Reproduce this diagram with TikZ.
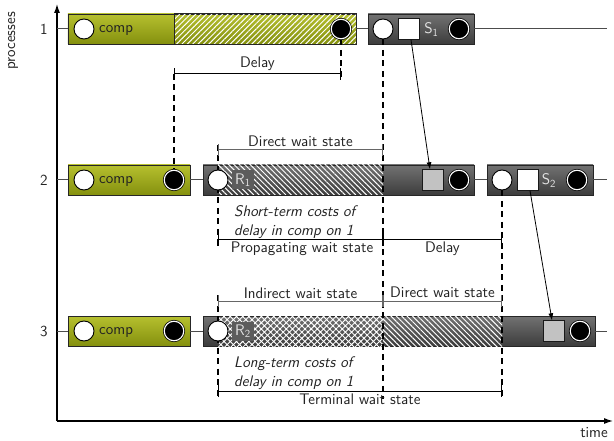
\documentclass[tikz,border=0pt]{standalone}
\usetikzlibrary{patterns.meta,arrows.meta}
\pgfdeclarelayer{back}
\pgfdeclarelayer{mid}
\pgfsetlayers{back,mid,main}
\definecolor{compTop}{HTML}{B6C02F}
\definecolor{compBot}{HTML}{84900E}
\definecolor{waitTop}{HTML}{727272}
\definecolor{waitBot}{HTML}{3C3C3C}
\definecolor{waitMid}{HTML}{5C5C5C}
\definecolor{msgGray}{HTML}{C2C2C2}
\definecolor{labelFg}{HTML}{E4E4E4}
\definecolor{inkGray}{HTML}{222222}

\begin{document}
\begin{tikzpicture}[x=1bp, y=-1bp,
  font=\sffamily\fontsize{15.4}{19}\selectfont, text=inkGray,
  compbox/.style={rectangle, draw=black!85, line width=0.8bp,
    top color=compTop, bottom color=compBot, minimum height=30bp, inner sep=0pt},
  waitbox/.style={rectangle, draw=black!85, line width=0.8bp,
    top color=waitTop, bottom color=waitBot, minimum height=30bp, inner sep=0pt},
  enter/.style={circle, draw=black, fill=white, line width=0.9bp,
    minimum size=20bp, inner sep=0pt},
  leave/.style={circle, fill=black, draw=white, line width=1.1bp,
    minimum size=19.5bp, inner sep=0pt, preaction={draw=black, line width=2.6bp}},
  sendsq/.style={rectangle, draw=black!90, fill=white, line width=0.9bp,
    minimum size=20.5bp, inner sep=0pt},
  recvsq/.style={rectangle, draw=black!90, fill=msgGray, line width=0.9bp,
    minimum size=20.5bp, inner sep=0pt},
  boxlabel/.style={text=labelFg, inner sep=0pt},
  regionlabel/.style={fill=waitMid, text=labelFg, inner xsep=3bp, inner ysep=2.5bp,
    minimum height=19bp},
  proc/.style={draw=black!70, line width=1bp},
  axis/.style={draw=black, line width=1.2bp, -{Latex[length=9bp,width=6bp]}},
  delayline/.style={draw=black, line width=1.2bp, dash pattern=on 6bp off 4.5bp},
  delaythick/.style={draw=black, line width=1.7bp, dash pattern=on 6bp off 4.5bp},
  mbar/.style={draw=black, line width=1bp, {Bar[width=12bp]}-{Bar[width=12bp]}},
  mbargray/.style={mbar, draw=black!60},
  msg/.style={draw=black, line width=0.8bp, -{Latex[length=7bp,width=5bp]}},
  txt/.style={inner sep=0pt, anchor=base},
  txtit/.style={inner sep=0pt, anchor=base west, font=\sffamily\itshape\fontsize{15.4}{19}\selectfont},
  linesNE/.style={pattern={Lines[angle=45,distance=3.8bp,line width=1bp]}, pattern color=white},
  linesNW/.style={pattern={Lines[angle=-45,distance=3.8bp,line width=1bp]}, pattern color=white},
  mesh/.style={pattern={Hatch[angle=45,distance=4.4bp,line width=0.9bp]}, pattern color=white}
]
\useasboundingbox (0,0) rectangle (614,441);

% axes
\coordinate (O) at (57,421);
\coordinate (ytop) at (57,4);
\coordinate (xend) at (613,421);
\draw[axis] (O) -- (ytop);
\draw[axis] (O) -- (xend);
\node[rotate=90] (ylab) at (13,41) {processes};
\node[inner sep=0pt] (xlab) at (594,432.5) {time};
\node (n1) at (44,29) {1};
\node (n2) at (44,180) {2};
\node (n3) at (44,331) {3};
\coordinate (a1) at (57,29);
\coordinate (a2) at (57,180);
\coordinate (a3) at (57,331);
\coordinate (end1) at (607,29);
\coordinate (end2) at (607,180);
\coordinate (end3) at (607,331);

% ---------- boxes (back layer)
\begin{pgfonlayer}{back}
  % process 1
  \node[compbox, minimum width=288bp] (g1) at (212,29) {};
  \draw[linesNE, draw=black!85, line width=0.7bp] (g1.north -| 174,0) rectangle (g1.south east);
  \node[waitbox, minimum width=106bp] (b1) at (421,29) {};
  % process 2
  \node[compbox, minimum width=122bp] (g2) at (129,180) {};
  \node[waitbox, minimum width=271bp] (b2) at (338.5,180) {};
  \path[linesNW] (218,165) rectangle (383,195);
  \node[waitbox, minimum width=106bp] (b3) at (540,180) {};
  % process 3
  \node[compbox, minimum width=122bp] (g3) at (129,331) {};
  \node[waitbox, minimum width=392bp] (b4) at (399,331) {};
  \path[mesh] (218,316) rectangle (383,346);
  \path[linesNW] (383,316) rectangle (502,346);
\end{pgfonlayer}

% ---------- events (main layer)
% process 1
\node[enter] (e1) at (84,29) {};
\node[txt, anchor=base west] (c1) at (99,32.5) {comp};
\node[leave] (x1) at (341,29) {};
\node[enter] (e1b) at (383,29) {};
\node[sendsq] (s1) at (409,29) {};
\node[boxlabel, anchor=base] (l1) at (431.5,34) {S\textsubscript{1}};
\node[leave] (x1b) at (459,29) {};
% process 2
\node[enter] (e2) at (84,180) {};
\node[txt, anchor=base west] (c2) at (99,183.5) {comp};
\node[leave] (x2) at (174,180) {};
\node[enter] (e2b) at (218,180) {};
\node[regionlabel] (r1) at (243,180) {R\textsubscript{1}};
\node[recvsq] (q2) at (433,180) {};
\node[leave] (x2b) at (459,180) {};
\node[enter] (e3) at (502,180) {};
\node[sendsq] (s2) at (528,180) {};
\node[boxlabel, anchor=base] (l2) at (549,185) {S\textsubscript{2}};
\node[leave] (x3) at (577,180) {};
% process 3
\node[enter] (e4) at (84,331) {};
\node[txt, anchor=base west] (c3) at (99,334.5) {comp};
\node[leave] (x4) at (174,331) {};
\node[enter] (e4b) at (218,331) {};
\node[regionlabel] (r2) at (243,331) {R\textsubscript{2}};
\node[recvsq] (q4) at (554,331) {};
\node[leave] (x4b) at (580,331) {};

% process lines
\draw[proc] (a1) -- (g1.west);
\draw[proc] (g1.east) -- (b1.west);
\draw[proc] (b1.east) -- (end1);
\draw[proc] (a2) -- (g2.west);
\draw[proc] (g2.east) -- (b2.west);
\draw[proc] (b2.east) -- (b3.west);
\draw[proc] (b3.east) -- (end2);
\draw[proc] (a3) -- (g3.west);
\draw[proc] (g3.east) -- (b4.west);
\draw[proc] (b4.east) -- (end3);

% messages
\draw[msg] ([xshift=2bp]s1.south) -- ([xshift=-3bp]q2.north);
\draw[msg] ([xshift=2bp]s2.south) -- ([xshift=-2bp]q4.north);

% ---------- time references and measures (mid layer)
\coordinate (dA) at (174,74);
\coordinate (dB) at (341,80);
\coordinate (dC) at (383,399);
\coordinate (dD1) at (218,145);
\coordinate (dD2) at (218,246);
\coordinate (dE1) at (218,295);
\coordinate (dE2) at (218,397);
\coordinate (dF) at (502,397);
\begin{pgfonlayer}{mid}
  \draw[delayline] (dA) -- (x2);
  \draw[delayline] (x1) -- (dB);
  \draw[delaythick] (e1b) -- (dC);
  \draw[delayline] (dD1) -- (dD2);
  \draw[delayline] (dE1) -- (dE2);
  \draw[delayline] (e3) -- (dF);
\end{pgfonlayer}

% delay of process 1
\coordinate (m1a) at (174,74);
\coordinate (m1b) at (341,74);
\draw[mbar] (m1a) -- (m1b);
\node[txt] (t1) at (257.5,68) {Delay};

% process 2 measures
\coordinate (m2a) at (218,150);
\coordinate (m2b) at (383,150);
\draw[mbargray] (m2a) -- (m2b);
\node[txt] (t2) at (300.5,147) {Direct wait state};
\node[txtit] (t3) at (234,217) {Short-term costs of};
\node[txtit] (t4) at (234,236) {delay in comp on 1};
\coordinate (m3a) at (218,240);
\coordinate (m3b) at (383,240);
\coordinate (m3c) at (502,240);
\draw[mbar] (m3a) -- (m3b);
\draw[mbar] (m3b) -- (m3c);
\node[txt] (t5) at (302,253) {Propagating wait state};
\node[txt] (t6) at (442.5,253) {Delay};

% process 3 measures
\coordinate (m4a) at (218,301);
\coordinate (m4b) at (383,301);
\coordinate (m4c) at (502,301);
\draw[mbargray] (m4a) -- (m4b);
\draw[mbargray] (m4b) -- (m4c);
\node[txt] (t7) at (300.5,298.5) {Indirect wait state};
\node[txt] (t8) at (442.5,298) {Direct wait state};
\node[txtit] (t9) at (234,367) {Long-term costs of};
\node[txtit] (t10) at (234,386) {delay in comp on 1};
\coordinate (m5a) at (218,391);
\coordinate (m5b) at (502,391);
\draw[mbar] (m5a) -- (m5b);
\node[txt] (t11) at (360,404) {Terminal wait state};
\end{tikzpicture}
\end{document}
